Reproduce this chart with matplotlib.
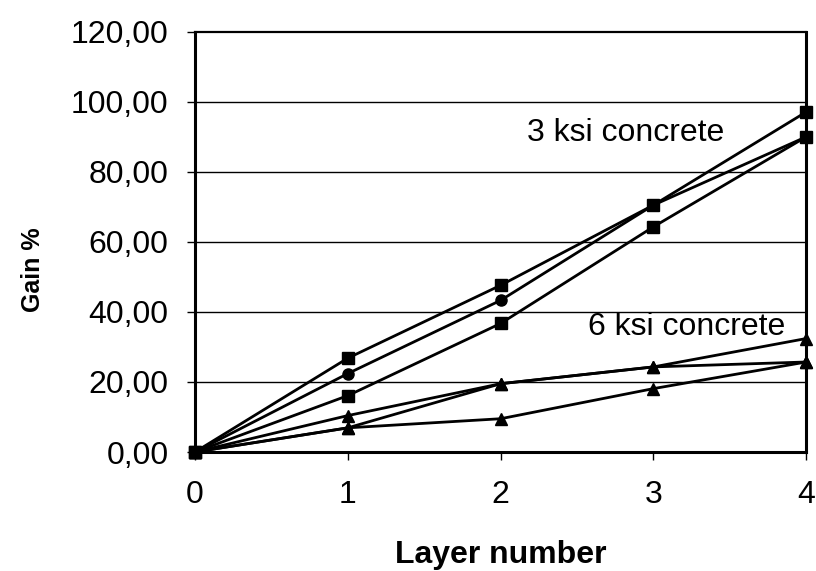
import matplotlib
matplotlib.use("Agg")
import matplotlib.pyplot as plt

plt.rcParams["font.family"] = ["Liberation Sans", "DejaVu Sans"]

# Layer count and gain (%) per specimen
layers = [0, 1, 2, 3, 4]

ksi3_a = [0.0, 26.8, 47.6, 70.5, 97.1]
ksi3_b = [0.0, 22.4, 43.3, 70.5, 90.0]
ksi3_c = [0.0, 16.1, 36.7, 64.3, 90.0]

ksi6_a = [0.0, 10.4, 19.5, 24.3, 32.4]
ksi6_b = [0.0, 6.9, 19.5, 24.3, 25.7]
ksi6_c = [0.0, 6.9, 9.5, 18.1, 25.7]

y_ticks = [0, 20, 40, 60, 80, 100, 120]
y_tick_labels = ["0,00", "20,00", "40,00", "60,00", "80,00", "100,00", "120,00"]

fig = plt.figure(figsize=(8.16, 5.71), dpi=100)
ax = fig.add_axes([0.239, 0.2084, 0.749, 0.736])

series = [
    (ksi3_a, "s"), (ksi3_b, "o"), (ksi3_c, "s"),
    (ksi6_a, "^"), (ksi6_b, "^"), (ksi6_c, "^"),
]
for vals, mk in series:
    ax.plot(layers, vals, color="black", lw=2.0, marker=mk, ms=8,
            clip_on=False, zorder=3)

ax.set_xlim(0, 4)
ax.set_ylim(0, 120)
ax.set_xticks(layers)
ax.set_xticklabels([str(v) for v in layers])
ax.set_yticks(y_ticks)
ax.set_yticklabels(y_tick_labels)

for y in y_ticks[1:-1]:
    ax.axhline(y, color="black", lw=1.0, zorder=1)

for side in ["left", "bottom", "right"]:
    ax.spines[side].set_linewidth(2.2)
ax.spines["top"].set_linewidth(1.6)

ax.tick_params(axis="both", labelsize=23, length=6, width=1.0, colors="black")
ax.tick_params(axis="x", pad=14)
ax.tick_params(axis="y", pad=13)

ax.text(2.17, 91.0, "3 ksi concrete", fontsize=23, va="center", ha="left")
ax.text(2.57, 35.7, "6 ksi concrete", fontsize=23, va="center", ha="left")

ax.set_xlabel("Layer number", fontsize=23, fontweight="bold", labelpad=22)
fig.text(0.040, 0.527, "Gain %", fontsize=18, fontweight="bold",
         rotation=90, ha="center", va="center")

fig.savefig("out.png", dpi=100)
